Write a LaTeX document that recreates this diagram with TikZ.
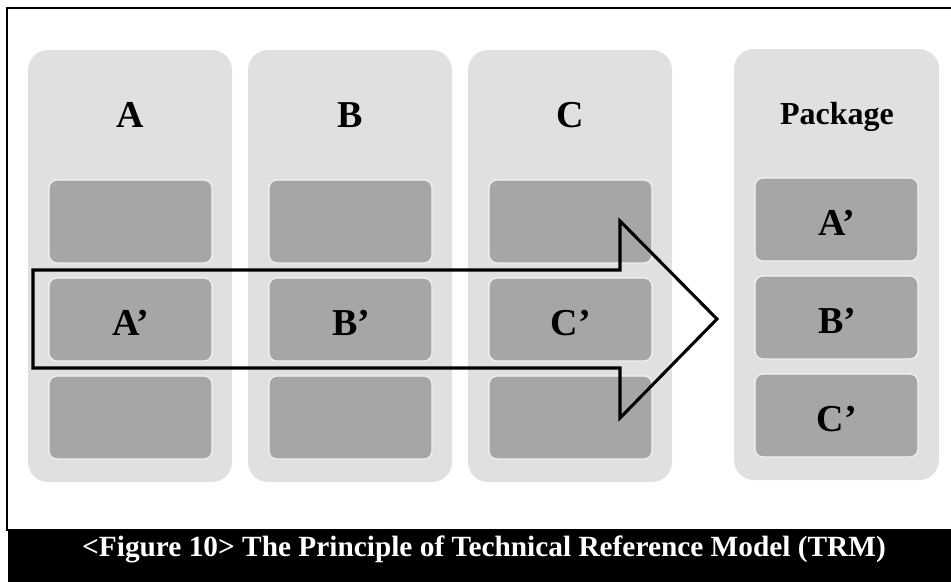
\documentclass[tikz,border=0pt]{standalone}
\usepackage{fontspec}
\setmainfont{Liberation Serif}
\definecolor{colgray}{HTML}{E0E0E0}
\definecolor{cellgray}{HTML}{A6A6A6}
\definecolor{cellline}{HTML}{F2F2F2}
\begin{document}
\begin{tikzpicture}[x=0.75pt,y=-0.75pt,
  col/.style={fill=colgray, rounded corners=15pt},
  cell/.style={fill=cellgray, draw=cellline, line width=0.9pt, rounded corners=6pt},
  biglabel/.style={font=\bfseries\fontsize{28.5}{30}\selectfont, anchor=base, inner sep=0pt},
  pkglabel/.style={font=\bfseries\fontsize{24}{26}\selectfont, anchor=base, inner sep=0pt},
  arrowline/.style={draw=black, line width=2.3pt, miter limit=20},
  frameline/.style={draw=black, line width=1.5pt}]
\useasboundingbox (0,0) rectangle (951,582);
\fill[white] (0,0) rectangle (951,582);
% frame
\draw[frameline] (7,531) -- (7,8) -- (951,8);
% columns
\path[col] (28,50) rectangle (232,482);
\path[col] (248,50) rectangle (452,482);
\path[col] (468,50) rectangle (672,482);
\path[col] (734,49) rectangle (939,480);
% cells A
\path[cell] (49,180) rectangle (212,263);
\path[cell] (49,278) rectangle (212,361);
\path[cell] (49,376) rectangle (212,459);
% cells B
\path[cell] (269,180) rectangle (432,263);
\path[cell] (269,278) rectangle (432,361);
\path[cell] (269,376) rectangle (432,459);
% cells C
\path[cell] (489,180) rectangle (652,263);
\path[cell] (489,278) rectangle (652,361);
\path[cell] (489,376) rectangle (652,459);
% cells Package
\path[cell] (755,178) rectangle (918,261);
\path[cell] (755,276) rectangle (918,359);
\path[cell] (755,374) rectangle (918,457);
% headers
\node[biglabel] (hA) at (130,127) {A};
\node[biglabel] (hB) at (350,127) {B};
\node[biglabel] (hC) at (570,127) {C};
\node[pkglabel] (hP) at (837,124) {Package};
% cell labels
\node[biglabel] (a1) at (131,335) {A’};
\node[biglabel] (b1) at (351,335) {B’};
\node[biglabel] (c1) at (571,335) {C’};
\node[biglabel] (pa) at (837,235) {A’};
\node[biglabel] (pb) at (837,333) {B’};
\node[biglabel] (pc) at (837,431) {C’};
% arrow
\draw[arrowline] (33,270) -- (620,270) -- (620,221) -- (717,319) -- (620,418) -- (620,368) -- (33,368) -- cycle;
% caption bar
\fill[black] (8,529) rectangle (951,582);
\node[text=white, font=\bfseries\fontsize{22}{24}\selectfont, anchor=base, inner sep=0pt] (cap) at (484,556) {<Figure 10> The Principle of Technical Reference Model (TRM)};
\end{tikzpicture}
\end{document}
